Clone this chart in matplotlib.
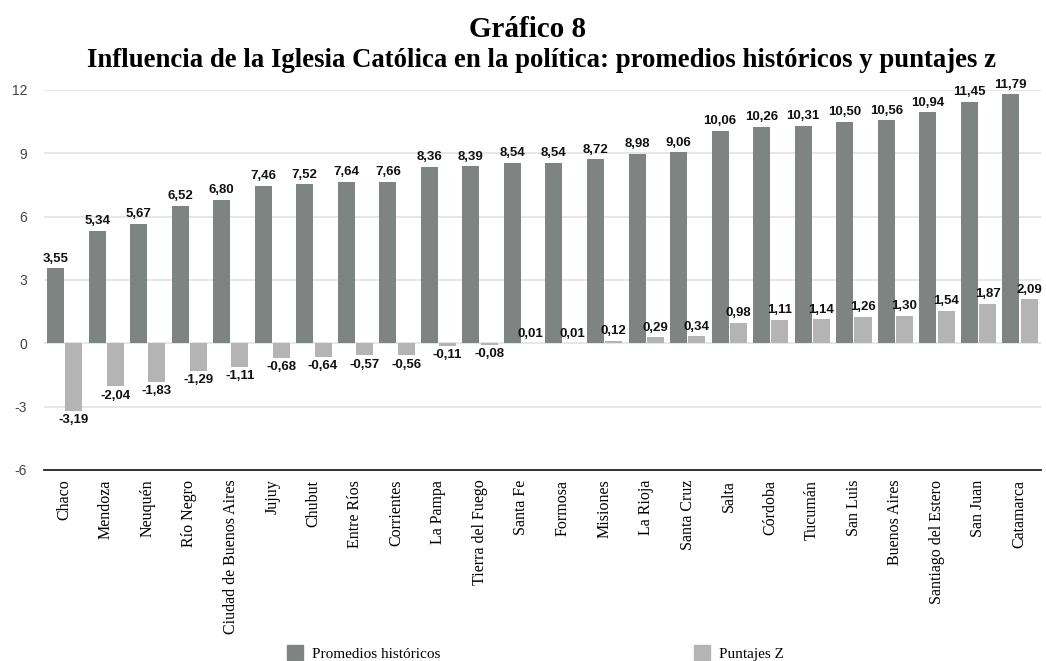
import matplotlib.pyplot as plt
import numpy as np
from matplotlib.patches import Patch

provincias = ["Chaco", "Mendoza", "Neuquén", "Río Negro", "Ciudad de Buenos Aires",
              "Jujuy", "Chubut", "Entre Ríos", "Corrientes", "La Pampa",
              "Tierra del Fuego", "Santa Fe", "Formosa", "Misiones", "La Rioja",
              "Santa Cruz", "Salta", "Córdoba", "Tucumán", "San Luis",
              "Buenos Aires", "Santiago del Estero", "San Juan", "Catamarca"]
promedios = [3.55, 5.34, 5.67, 6.52, 6.80, 7.46, 7.52, 7.64, 7.66, 8.36,
             8.39, 8.54, 8.54, 8.72, 8.98, 9.06, 10.06, 10.26, 10.31, 10.50,
             10.56, 10.94, 11.45, 11.79]
puntajes_z = [-3.19, -2.04, -1.83, -1.29, -1.11, -0.68, -0.64, -0.57, -0.56, -0.11,
              -0.08, 0.01, 0.01, 0.12, 0.29, 0.34, 0.98, 1.11, 1.14, 1.26,
              1.30, 1.54, 1.87, 2.09]
y_ticks = [-6, -3, 0, 3, 6, 9, 12]

oscuro = "#7e8481"
claro = "#b4b4b4"
serif = ["Liberation Serif", "DejaVu Serif"]
sans = ["Liberation Sans", "DejaVu Sans"]

fig = plt.figure(figsize=(10.46, 6.61), dpi=100)
ax = fig.add_axes([0.0418, 0.289, 0.953, 0.575])

x = np.arange(len(provincias))
w = 0.41
ax.bar(x - 0.215, promedios, w, color=oscuro, zorder=3)
ax.bar(x + 0.225, puntajes_z, w, color=claro, zorder=3)

# etiquetas de valores
for xi, v in zip(x - 0.215, promedios):
    ax.annotate(f"{v:.2f}".replace(".", ","), (xi, v), xytext=(0, 2.5),
                textcoords="offset points", ha="center", va="bottom",
                fontsize=9.5, fontweight="bold", family=sans, color="#111111")
for xi, v in zip(x + 0.225, puntajes_z):
    txt = f"{v:.2f}".replace(".", ",")
    if v < 0:
        ax.annotate(txt, (xi, v), xytext=(0, -2.5), textcoords="offset points",
                    ha="center", va="top", fontsize=9.5, fontweight="bold",
                    family=sans, color="#111111")
    else:
        ax.annotate(txt, (xi, v), xytext=(0, 2.5), textcoords="offset points",
                    ha="center", va="bottom", fontsize=9.5, fontweight="bold",
                    family=sans, color="#111111")

ax.set_xlim(-0.5, len(provincias) - 0.5)
ax.set_ylim(-6, 12)
ax.set_yticks(y_ticks)
ax.set_yticklabels([str(t) for t in y_ticks], family=sans, fontsize=10, color="#444444")
ax.set_xticks(x)
ax.set_xticklabels(provincias, rotation=90, family=serif, fontsize=11.5, va="top")
ax.tick_params(axis="both", length=0)
ax.tick_params(axis="y", pad=12)
ax.tick_params(axis="x", pad=7)
ax.grid(axis="y", color="#e3e3e3", linewidth=1.2, zorder=0)
for s in ["top", "right", "left"]:
    ax.spines[s].set_visible(False)
ax.spines["bottom"].set_color("#222222")
ax.spines["bottom"].set_linewidth(1.3)

fig.text(0.504, 0.944, "Gráfico 8", ha="center", va="baseline",
         family=serif, fontweight="bold", fontsize=21)
fig.text(0.518, 0.899, "Influencia de la Iglesia Católica en la política: promedios históricos y puntajes z",
         ha="center", va="baseline", family=serif, fontweight="bold", fontsize=19.3)

handles = [Patch(color=oscuro, label="Promedios históricos"),
           Patch(color=claro, label="Puntajes Z")]
fig.legend(handles=handles, loc="center", bbox_to_anchor=(0.512, 0.012), ncol=2,
           frameon=False, prop={"family": serif, "size": 11}, columnspacing=16.6,
           handlelength=1.05, handleheight=1.05, handletextpad=0.6)

plt.savefig("out.png", dpi=100)
